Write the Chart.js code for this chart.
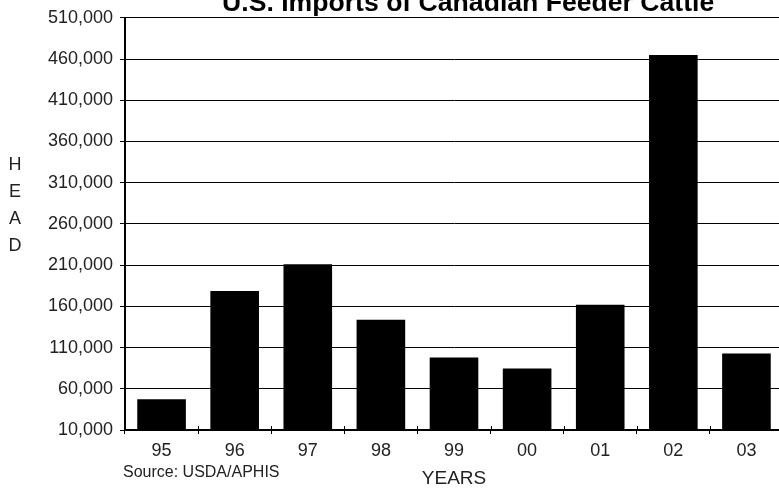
<!DOCTYPE html>
<html>
<head>
<meta charset="utf-8">
<script src="https://cdn.jsdelivr.net/npm/chart.js@4.4.1/dist/chart.umd.min.js"></script>
<style>
  html, body { margin: 0; padding: 0; overflow: hidden; background: #fff; }
  #wrap { position: relative; width: 784px; height: 493px; }
</style>
</head>
<body>
<div id="wrap"><canvas id="c"></canvas></div>
<script>
const categories = ['95', '96', '97', '98', '99', '00', '01', '02', '03'];
const importsHead = [47300, 178700, 211200, 143700, 98000, 84700, 161800, 465000, 102800];
const yMin = 10000, yMax = 510000, yStep = 50000;
const titleText = 'U.S. Imports of Canadian Feeder Cattle';
const yAxisLetters = ['H', 'E', 'A', 'D'];
const xAxisTitle = 'YEARS';
const sourceText = 'Source: USDA/APHIS';

const FONT = "'Liberation Sans', Arial, sans-serif";

const extraText = {
  id: 'extraText',
  afterDraw(chart) {
    const ctx = chart.ctx;
    const area = chart.chartArea;
    const xs = chart.scales.x;
    ctx.save();
    // short upward tick marks crossing the x axis at category boundaries
    ctx.strokeStyle = '#000';
    ctx.lineWidth = 1;
    for (let i = 1; i < categories.length; i++) {
      const px = Math.round((xs.getPixelForTick(i - 1) + xs.getPixelForTick(i)) / 2) + 0.5;
      ctx.beginPath();
      ctx.moveTo(px, area.bottom - 4);
      ctx.lineTo(px, area.bottom);
      ctx.stroke();
    }
    ctx.fillStyle = '#000';
    // Title (partially cut off at the top in the reference)
    ctx.font = "bold 26.6px " + FONT;
    ctx.textAlign = 'center';
    ctx.textBaseline = 'alphabetic';
    ctx.fillText(titleText, area.left + (area.right - area.left) * 0.5215, 11);
    // Vertical HEAD label
    ctx.fillStyle = '#222';
    ctx.font = "18px " + FONT;
    ctx.textBaseline = 'middle';
    yAxisLetters.forEach((ch, i) => {
      ctx.fillText(ch, 15, 165 + i * 27);
    });
    // Source
    ctx.textAlign = 'left';
    ctx.textBaseline = 'alphabetic';
    ctx.font = "16px " + FONT;
    ctx.fillText(sourceText, area.left - 2, 477);
    ctx.restore();
  }
};

new Chart(document.getElementById('c'), {
  type: 'bar',
  data: {
    labels: categories,
    datasets: [{
      data: importsHead,
      backgroundColor: '#000',
      borderWidth: 0,
      categoryPercentage: 1.0,
      barPercentage: 0.665
    }]
  },
  options: {
    responsive: true,
    maintainAspectRatio: false,
    animation: false,
    layout: { padding: { top: 15, left: 0, right: 1, bottom: 0 } },
    plugins: {
      legend: { display: false },
      title: { display: false },
      tooltip: { enabled: false }
    },
    scales: {
      x: {
        afterFit(scale) { scale.height = 63; },
        border: { display: true, color: '#000', width: 2 },
        grid: { offset: true, drawOnChartArea: false, drawTicks: true, tickLength: 4, color: '#000', lineWidth: 1 },
        ticks: { color: '#222', font: { family: FONT, size: 18 }, padding: 6, maxRotation: 0, autoSkip: false },
        title: { display: true, text: xAxisTitle, color: '#222', font: { family: FONT, size: 19 }, padding: { top: 0, bottom: 3 } }
      },
      y: {
        min: yMin,
        max: yMax,
        afterFit(scale) { scale.width = 125; },
        border: { display: true, color: '#000', width: 2 },
        grid: { color: '#000', lineWidth: 1, drawTicks: true, tickLength: 5, tickColor: '#000' },
        ticks: {
          stepSize: yStep,
          color: '#222',
          font: { family: FONT, size: 18 },
          padding: 7,
          callback: (v) => v.toLocaleString('en-US')
        }
      }
    }
  },
  plugins: [extraText]
});
</script>
</body>
</html>
